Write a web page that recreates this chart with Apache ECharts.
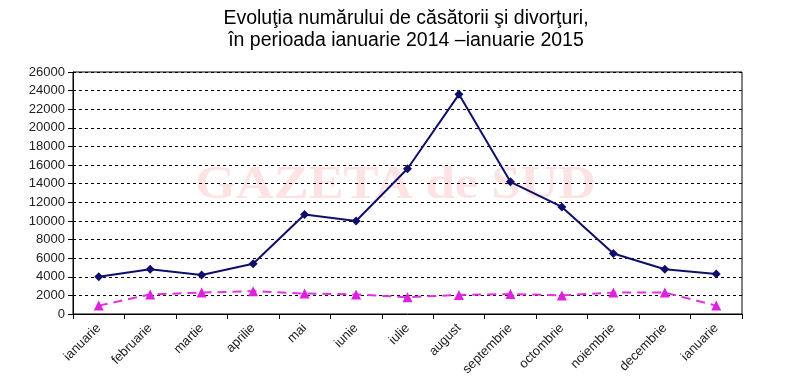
<!DOCTYPE html>
<html>
<head>
<meta charset="utf-8">
<script src="https://cdn.jsdelivr.net/npm/echarts@6/dist/echarts.min.js"></script>
<style>html,body{margin:0;padding:0;background:#fff}#c{width:788px;height:384px}</style>
</head>
<body>
<div id="c"></div>
<script>
var categories = ['ianuarie','februarie','martie','aprilie','mai','iunie','iulie','august','septembrie','octombrie','noiembrie','decembrie','ianuarie'];
var casatorii = [4000, 4800, 4200, 5400, 10700, 10000, 15600, 23600, 14200, 11500, 6500, 4800, 4300];
var divorturi = [900, 2100, 2300, 2450, 2200, 2100, 1800, 2050, 2150, 2000, 2300, 2300, 900];
var yTicks = {min: 0, max: 26000, interval: 2000};

var chart = echarts.init(document.getElementById('c'));
chart.setOption({
  animation: false,
  backgroundColor: '#fff',
  title: {
    text: 'Evoluţia numărului de căsătorii şi divorţuri,\nîn perioada ianuarie 2014 –ianuarie 2015',
    left: 401, top: 3, textAlign: 'center',
    textStyle: {fontFamily: 'Liberation Sans', fontSize: 19.5, fontWeight: 'normal', color: '#000', lineHeight: 22}
  },
  graphic: [{
    type: 'text', left: 195, top: 163, z: 0, silent: true, scaleX: 1.14,
    style: {text: 'GAZETA de SUD', font: 'bold 46px "Liberation Serif"', fill: '#fde3e3'}
  }],
  grid: {left: 73, right: 46, top: 72, bottom: 70, show: true, borderColor: '#000', borderWidth: 1, z: 1},
  xAxis: {
    type: 'category', data: categories, boundaryGap: true,
    axisLine: {lineStyle: {color: '#000'}},
    axisTick: {show: true, length: 5, lineStyle: {color: '#000'}},
    axisLabel: {rotate: 45, fontFamily: 'Liberation Sans', fontSize: 13, color: '#222', margin: 12, interval: 0},
    splitLine: {show: false}
  },
  yAxis: {
    type: 'value', min: yTicks.min, max: yTicks.max, interval: yTicks.interval,
    axisLine: {show: true, lineStyle: {color: '#000'}},
    axisTick: {show: true, length: 5, inside: false, lineStyle: {color: '#000'}},
    axisLabel: {fontFamily: 'Liberation Sans', fontSize: 13, color: '#222', margin: 8, formatter: function (v) { return String(v); }},
    splitLine: {show: true, lineStyle: {color: '#000', type: [3, 3], width: 1}}
  },
  series: [{
    name: 'căsătorii', type: 'line', data: casatorii,
    symbol: 'diamond', symbolSize: 9,
    lineStyle: {color: '#0f0f6b', width: 2},
    itemStyle: {color: '#0f0f6b'}, z: 3
  }, {
    name: 'divorţuri', type: 'line', data: divorturi,
    symbol: 'triangle', symbolSize: 10,
    lineStyle: {color: '#e033e0', width: 2, type: [9, 6]},
    itemStyle: {color: '#e020e0'}, z: 3
  }]
});
</script>
</body>
</html>
